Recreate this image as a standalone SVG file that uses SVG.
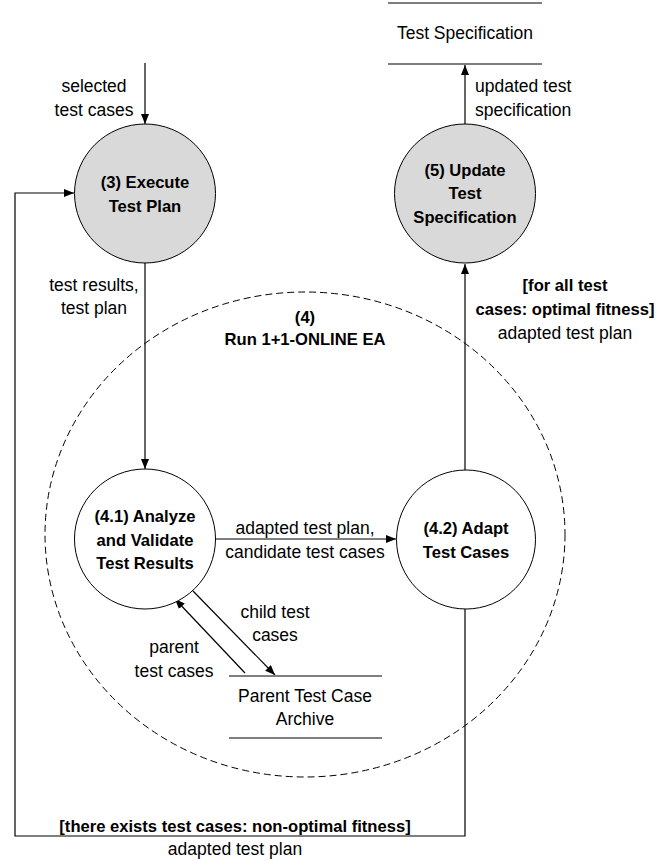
<svg xmlns="http://www.w3.org/2000/svg" width="671" height="863" viewBox="0 0 671 863">
<style>
text{font-family:"Liberation Sans",Arial,sans-serif;font-size:17.5px;fill:#000;text-anchor:middle}
.b{font-weight:bold;font-size:16.6px}
.proc{stroke:#000;stroke-width:1}
.g{fill:#d9d9d9}
.w{fill:#fff}
.store{stroke:#7f7f7f;stroke-width:2}
.c{fill:none;stroke:#000;stroke-width:1.2}
</style>
<defs>
<marker id="ah" viewBox="0 0 10 10" refX="10" refY="5" markerWidth="10" markerHeight="8" markerUnits="userSpaceOnUse" orient="auto" preserveAspectRatio="none">
<path d="M0,0 L10,5 L0,10 z" fill="#000"/>
</marker>
</defs>
<rect width="671" height="863" fill="#fff"/>
<g id="group4">
<ellipse cx="305" cy="534.5" rx="260" ry="242.5" fill="none" stroke="#000" stroke-width="1" stroke-dasharray="7,4"/>
<text class="b" x="305" y="323">(4)</text>
<text class="b" x="305" y="345">Run 1+1-ONLINE EA</text>
</g>
<g id="connectors">
<line class="c" x1="145" y1="63" x2="145" y2="124" marker-end="url(#ah)"/>
<line class="c" x1="465" y1="124" x2="465" y2="65" marker-end="url(#ah)"/>
<line class="c" x1="145" y1="263" x2="145" y2="469" marker-end="url(#ah)"/>
<line class="c" x1="465" y1="470" x2="465" y2="264" marker-end="url(#ah)"/>
<line class="c" x1="215" y1="539" x2="396" y2="539" marker-end="url(#ah)"/>
<line class="c" x1="193" y1="591" x2="275" y2="675" marker-end="url(#ah)"/>
<line class="c" x1="245" y1="673" x2="175" y2="599" marker-end="url(#ah)"/>
<polyline class="c" points="465,609 465,836 15,836 15,193 74,193" marker-end="url(#ah)"/>
<text x="94" y="92">selected</text>
<text x="94" y="116">test cases</text>
<text x="475" y="92" style="text-anchor:start">updated test</text>
<text x="475" y="116" style="text-anchor:start">specification</text>
<text x="94" y="291">test results,</text>
<text x="94" y="314">test plan</text>
<text class="b" x="565" y="291">[for all test</text>
<text class="b" x="565" y="315">cases: optimal fitness]</text>
<text x="565" y="339">adapted test plan</text>
<text x="305" y="534">adapted test plan,</text>
<text x="305" y="558">candidate test cases</text>
<text x="275" y="618">child test</text>
<text x="275" y="641">cases</text>
<text x="174" y="653">parent</text>
<text x="174" y="677">test cases</text>
<text class="b" x="235" y="832">[there exists test cases: non-optimal fitness]</text>
<text x="235" y="855">adapted test plan</text>
</g>
<g id="testSpec">
<line class="store" x1="388" y1="3" x2="542" y2="3"/>
<line class="store" x1="388" y1="64" x2="542" y2="64"/>
<text x="465" y="39">Test Specification</text>
</g>
<g id="node3">
<ellipse class="proc g" cx="145" cy="193.5" rx="70.5" ry="69.5"/>
<text class="b" x="145" y="188">(3) Execute</text>
<text class="b" x="145" y="212">Test Plan</text>
</g>
<g id="node5">
<ellipse class="proc g" cx="465" cy="193.5" rx="70.5" ry="69.5"/>
<text class="b" x="465" y="176">(5) Update</text>
<text class="b" x="465" y="199">Test</text>
<text class="b" x="465" y="223">Specification</text>
</g>
<g id="node41">
<ellipse class="proc w" cx="145" cy="539" rx="70.5" ry="70"/>
<text class="b" x="145" y="522">(4.1) Analyze</text>
<text class="b" x="145" y="546">and Validate</text>
<text class="b" x="145" y="569">Test Results</text>
</g>
<g id="node42">
<ellipse class="proc w" cx="466" cy="539.5" rx="69.5" ry="69.5"/>
<text class="b" x="466" y="534">(4.2) Adapt</text>
<text class="b" x="466" y="558">Test Cases</text>
</g>
<g id="archive">
<line class="store" x1="229" y1="676" x2="382" y2="676"/>
<line class="store" x1="229" y1="738" x2="382" y2="738"/>
<text x="305" y="702">Parent Test Case</text>
<text x="305" y="725">Archive</text>
</g>
</svg>
